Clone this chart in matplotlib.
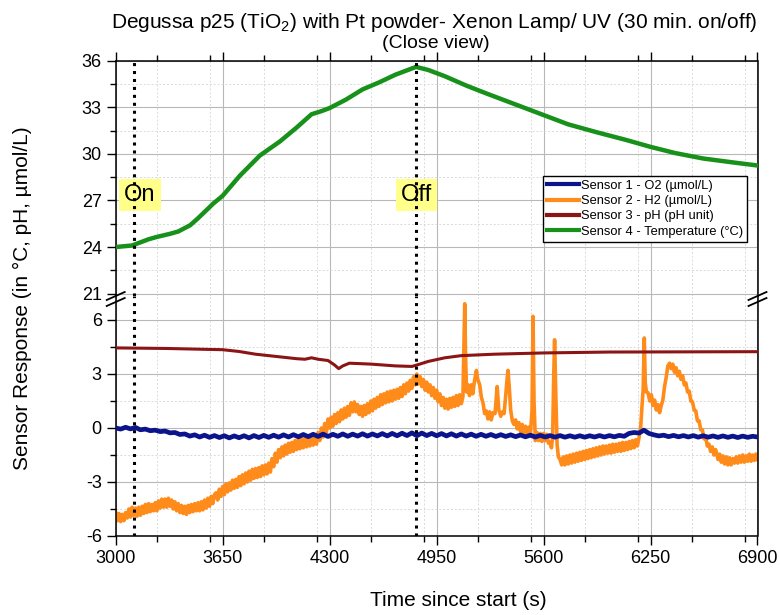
import matplotlib
matplotlib.use('Agg')
import matplotlib.pyplot as plt
from matplotlib.ticker import MultipleLocator, FixedLocator
from matplotlib.lines import Line2D

plt.rcParams['font.family'] = ['Liberation Sans', 'DejaVu Sans']
plt.rcParams['mathtext.fontset'] = 'custom'
plt.rcParams['mathtext.rm'] = 'Liberation Sans'
plt.rcParams['mathtext.it'] = 'Liberation Sans:italic'
plt.rcParams['axes.unicode_minus'] = False

# ---------------- data ----------------
temp_time = [3000, 3100, 3150, 3200, 3250, 3330, 3380, 3452, 3500, 3593, 3650, 3755,
             3877, 3998, 4100, 4190, 4250, 4300, 4400, 4500, 4600, 4700, 4825, 4900,
             5000, 5130, 5250, 5400, 5600, 5750, 5920, 6100, 6250, 6400, 6570, 6750, 6900]
temp_vals = [24.0, 24.1, 24.3, 24.5, 24.65, 24.85, 25.0, 25.4, 25.85, 26.8, 27.3, 28.6,
             29.9, 30.8, 31.7, 32.55, 32.75, 32.95, 33.5, 34.15, 34.6, 35.1, 35.6, 35.4,
             35.0, 34.4, 33.9, 33.3, 32.5, 31.9, 31.4, 30.9, 30.45, 30.05, 29.7, 29.45, 29.25]

ph_time = [3000, 3300, 3500, 3650, 3750, 3850, 4000, 4100, 4150, 4190, 4230, 4290,
           4330, 4355, 4380, 4420, 4550, 4700, 4800, 4830, 4900, 5000, 5100, 5300,
           5600, 6000, 6900]
ph_vals = [4.45, 4.42, 4.38, 4.35, 4.25, 4.1, 3.95, 3.85, 3.82, 3.9, 3.82, 3.75,
           3.5, 3.3, 3.45, 3.6, 3.55, 3.45, 3.42, 3.5, 3.7, 3.9, 4.02, 4.1,
           4.17, 4.22, 4.24]

# O2 sampled every 30 s from 3000 to 6900
o2_time = list(range(3000, 6901, 30))
o2_vals = [0.0, -0.06, 0.04, -0.05, 0.03, -0.1, -0.06, -0.15, -0.12, -0.2,
           -0.17, -0.27, -0.25, -0.36, -0.33, -0.45, -0.38, -0.5, -0.4, -0.52,
           -0.42, -0.53, -0.43, -0.55, -0.44, -0.54, -0.43, -0.55, -0.42, -0.53,
           -0.41, -0.52, -0.4, -0.51, -0.38, -0.5, -0.37, -0.49, -0.36, -0.48,
           -0.35, -0.47, -0.34, -0.47, -0.35, -0.46, -0.33, -0.46, -0.34, -0.45,
           -0.32, -0.45, -0.33, -0.44, -0.31, -0.44, -0.3, -0.43, -0.29, -0.42,
           -0.27, -0.43, -0.28, -0.42, -0.3, -0.43, -0.31, -0.44, -0.32, -0.45,
           -0.33, -0.45, -0.34, -0.46, -0.35, -0.46, -0.36, -0.47, -0.37, -0.47,
           -0.38, -0.48, -0.39, -0.49, -0.4, -0.5, -0.41, -0.5, -0.42, -0.51,
           -0.42, -0.51, -0.43, -0.51, -0.43, -0.51, -0.43, -0.5, -0.42, -0.5,
           -0.42, -0.49, -0.41, -0.46, -0.3, -0.25, -0.28, -0.12, -0.3, -0.38,
           -0.44, -0.4, -0.48, -0.41, -0.49, -0.42, -0.5, -0.42, -0.51, -0.43,
           -0.51, -0.44, -0.52, -0.44, -0.52, -0.45, -0.53, -0.45, -0.52, -0.46,
           -0.5]

# H2: uniformly sampled (10 s) segments and irregular spike segments
h2_seg_a_time = list(range(3000, 3601, 10))
h2_seg_a_vals = [-4.7, -5.15, -4.75, -5.2, -4.8, -5.15, -4.7, -5.0, -4.5, -4.95,
                 -4.4, -4.85, -4.45, -4.9, -4.4, -4.85, -4.35, -4.75, -4.25, -4.7,
                 -4.2, -4.65, -4.25, -4.6, -4.15, -4.6, -4.05, -4.45, -3.95, -4.4,
                 -3.95, -4.4, -3.9, -4.35, -4.0, -4.5, -4.1, -4.6, -4.2, -4.7,
                 -4.3, -4.75, -4.35, -4.8, -4.3, -4.7, -4.25, -4.65, -4.2, -4.6,
                 -4.15, -4.6, -4.1, -4.55, -4.0, -4.45, -3.9, -4.35, -3.8, -4.2,
                 -3.7]
h2_seg_b_time = list(range(3610, 4001, 10))
h2_seg_b_vals = [-3.6, -4.0, -3.4, -3.8, -3.25, -3.7, -3.1, -3.55, -3.05, -3.45,
                 -2.9, -3.35, -2.85, -3.3, -2.7, -3.2, -2.6, -3.1, -2.5, -3.0,
                 -2.4, -2.9, -2.3, -2.8, -2.25, -2.75, -2.2, -2.7, -2.1, -2.6,
                 -2.05, -2.55, -1.95, -2.45, -1.7, -2.15, -1.4, -1.9, -1.2, -1.65]
h2_seg_c_time = list(range(4010, 4501, 10))
h2_seg_c_vals = [-1.05, -1.55, -0.95, -1.45, -0.85, -1.35, -0.8, -1.3, -0.7, -1.2,
                 -0.65, -1.15, -0.6, -1.1, -0.55, -1.05, -0.5, -1.0, -0.45, -0.95,
                 -0.4, -0.9, -0.25, -0.7, 0.0, -0.5, 0.25, -0.25, 0.5, 0.0,
                 0.6, 0.1, 0.75, 0.25, 0.85, 0.35, 1.0, 0.5, 1.1, 0.6,
                 1.2, 0.7, 1.4, 0.9, 1.45, 0.9, 1.3, 0.75, 1.2, 0.65]
h2_seg_d_time = list(range(4510, 5101, 10))
h2_seg_d_vals = [1.25, 0.75, 1.35, 0.85, 1.5, 0.95, 1.6, 1.1, 1.7, 1.2,
                 1.85, 1.3, 1.9, 1.4, 2.0, 1.45, 2.05, 1.5, 2.1, 1.6,
                 2.15, 1.65, 2.25, 1.75, 2.4, 1.9, 2.5, 2.05, 2.65, 2.2,
                 2.85, 2.4, 3.0, 2.45, 2.85, 2.3, 2.7, 2.1, 2.55, 2.0,
                 2.4, 1.8, 2.25, 1.65, 2.1, 1.45, 1.9, 1.25, 1.7, 1.1,
                 1.6, 1.05, 1.65, 1.15, 1.7, 1.2, 1.8, 1.25, 1.85, 1.35]
h2_seg_e = [(5110, 1.75), (5116, 4.5), (5121, 6.9), (5126, 4.0), (5132, 2.0), (5140, 2.4),
            (5150, 1.8), (5160, 2.4), (5170, 1.9), (5180, 2.6), (5192, 3.2), (5200, 2.7),
            (5212, 2.4), (5222, 1.7), (5232, 1.4), (5242, 0.8), (5252, 0.95), (5262, 0.5),
            (5272, 0.9), (5282, 0.45), (5292, 0.85), (5305, 0.8), (5318, 2.3), (5328, 1.0),
            (5340, 0.65), (5350, 0.9), (5360, 0.8), (5370, 1.8), (5378, 2.7), (5384, 3.2),
            (5392, 2.2), (5400, 1.0), (5410, 0.4), (5420, 0.2), (5430, 0.45), (5440, -0.05),
            (5450, 0.3), (5460, -0.2), (5470, 0.2), (5480, -0.3), (5490, 0.1), (5500, -0.35),
            (5510, 0.05), (5520, -0.35), (5530, 1.0), (5536, 6.2), (5542, 1.5), (5550, -0.7),
            (5560, -0.25), (5570, -0.7), (5580, -0.3), (5590, -0.75), (5600, -0.3), (5610, -0.7),
            (5620, -0.35), (5630, -0.85), (5640, -0.8), (5648, -1.1), (5655, -0.5), (5662, 3.0),
            (5667, 4.9), (5674, 2.0), (5682, -0.9), (5690, -1.6), (5700, -1.75)]
h2_seg_f_time = list(range(5710, 6181, 10))
h2_seg_f_vals = [-2.05, -1.6, -2.05, -1.55, -2.0, -1.5, -1.95, -1.45, -1.9, -1.4,
                 -1.85, -1.35, -1.8, -1.3, -1.75, -1.25, -1.7, -1.2, -1.65, -1.15,
                 -1.6, -1.1, -1.55, -1.05, -1.5, -1.0, -1.45, -1.0, -1.4, -0.95,
                 -1.4, -0.9, -1.35, -0.9, -1.3, -0.85, -1.3, -0.8, -1.25, -0.8,
                 -1.2, -0.75, -1.15, -0.7, -1.1, -0.65, -1.0, -0.55]
h2_seg_g = [(6190, 0.0), (6198, 1.2), (6205, 2.1), (6212, 5.0), (6218, 2.5), (6225, 2.0),
            (6235, 1.95), (6245, 1.5), (6255, 1.85), (6265, 1.25), (6275, 1.55), (6285, 1.0),
            (6295, 1.3), (6305, 0.85), (6315, 1.25), (6325, 1.55), (6335, 2.3), (6345, 2.8),
            (6355, 3.45), (6366, 3.6), (6375, 3.3), (6385, 3.55), (6395, 3.1), (6405, 3.35),
            (6415, 2.9), (6425, 3.15), (6435, 2.7), (6445, 2.9), (6455, 2.4), (6465, 2.5),
            (6475, 2.0), (6485, 2.05), (6495, 1.5), (6505, 1.45), (6515, 1.0), (6525, 0.95),
            (6535, 0.4), (6545, 0.4), (6555, -0.1), (6565, -0.1), (6575, -0.6), (6585, -0.5),
            (6595, -1.0), (6605, -0.9), (6615, -1.3), (6625, -1.05), (6635, -1.5), (6645, -1.2)]
h2_seg_h_time = list(range(6650, 6901, 10))
h2_seg_h_vals = [-1.35, -1.75, -1.45, -1.9, -1.55, -2.0, -1.6, -2.05, -1.65, -2.05,
                 -1.7, -1.95, -1.6, -1.95, -1.55, -1.9, -1.5, -1.9, -1.55, -1.85,
                 -1.45, -1.85, -1.5, -1.8, -1.45, -1.75]

h2_time = (h2_seg_a_time + h2_seg_b_time + h2_seg_c_time + h2_seg_d_time
           + [p[0] for p in h2_seg_e] + h2_seg_f_time + [p[0] for p in h2_seg_g]
           + h2_seg_h_time)
h2_vals = (h2_seg_a_vals + h2_seg_b_vals + h2_seg_c_vals + h2_seg_d_vals
           + [p[1] for p in h2_seg_e] + h2_seg_f_vals + [p[1] for p in h2_seg_g]
           + h2_seg_h_vals)

series_labels = ['Sensor 1 - O2 (µmol/L)', 'Sensor 2 - H2 (µmol/L)',
                 'Sensor 3 - pH (pH unit)', 'Sensor 4 - Temperature (°C)']
series_colors = ['#0c148c', '#ff8c1a', '#8b1414', '#17911a']

on_time = 3110
off_time = 4825
x_ticks = [3000, 3650, 4300, 4950, 5600, 6250, 6900]
top_yticks = [21, 24, 27, 30, 33, 36]
bot_yticks = [-6, -3, 0, 3, 6]

# ---------------- figure ----------------
W_PX, H_PX = 780, 615
fig = plt.figure(figsize=(7.8, 6.15), dpi=100)

def fx(px):
    return px / W_PX

def fy(py):
    return 1 - py / H_PX

L, R = 115.7, 757.5
T, MID, B = 60.7, 296.0, 536.0
ax_top = fig.add_axes([fx(L), fy(MID), fx(R) - fx(L), fy(T) - fy(MID)])
ax_bot = fig.add_axes([fx(L), fy(B), fx(R) - fx(L), fy(MID) - fy(B)])

for ax in (ax_top, ax_bot):
    ax.set_xlim(3000, 6900)
    ax.xaxis.set_major_locator(FixedLocator(x_ticks))
    ax.xaxis.set_minor_locator(MultipleLocator(325))
    ax.yaxis.set_minor_locator(MultipleLocator(1.5))
    ax.grid(which='major', color='#b8b8b8', lw=0.8)
    ax.grid(which='minor', color='#dadada', lw=0.7, ls=(0, (2, 2)))
    ax.set_axisbelow(True)
    for s in ax.spines.values():
        s.set_linewidth(1.1)
    ax.tick_params(axis='both', which='major', direction='out', length=6.5, width=1.0,
                   labelsize=13)
    ax.tick_params(axis='both', which='minor', direction='out', length=4, width=1.0)
    ax.tick_params(axis='y', right=False, which='both')

ax_top.set_ylim(21 - (MID - 293.6) / 15.53, 36)
ax_top.yaxis.set_major_locator(FixedLocator(top_yticks))
ax_bot.set_ylim(-6, 6 + (320 - MID) / 18.0)
ax_bot.yaxis.set_major_locator(FixedLocator(bot_yticks))

ax_top.spines['bottom'].set_visible(False)
ax_bot.spines['top'].set_visible(False)
ax_top.tick_params(axis='x', which='both', bottom=False, top=True, labelbottom=False)
ax_bot.tick_params(axis='x', which='both', bottom=True, top=False)
ax_bot.set_xticklabels([str(t) for t in x_ticks])

# data lines
ax_bot.plot(o2_time, o2_vals, color=series_colors[0], lw=3.4, zorder=3)
ax_bot.plot(h2_time, h2_vals, color=series_colors[1], lw=2.6, zorder=2.5)
ax_bot.plot(ph_time, ph_vals, color=series_colors[2], lw=2.2, zorder=3)
ax_top.plot(temp_time, temp_vals, color=series_colors[3], lw=3.2, zorder=3)

# on/off markers
for ax in (ax_top, ax_bot):
    for t in (on_time, off_time):
        ax.axvline(t, color='black', lw=2.2, ls=(0, (1, 1.6)), zorder=6)

box = dict(boxstyle='square,pad=0.22', fc='#ffff8a', ec='none')
ax_top.text(3145, 27.35, 'On', ha='center', va='center', fontsize=17, bbox=box, zorder=5)
ax_top.text(4828, 27.35, 'Off', ha='center', va='center', fontsize=17, bbox=box, zorder=5)

# legend
handles = [Line2D([0], [0], color=c, lw=3) for c in series_colors]
leg = ax_top.legend(handles, series_labels, loc='upper left', bbox_to_anchor=(0.666, 0.51),
                    fontsize=9.3, frameon=True, fancybox=False, edgecolor='black',
                    framealpha=1, handlelength=2.5, handletextpad=0.1, labelspacing=0.25,
                    borderpad=0.3, borderaxespad=0)
leg.get_frame().set_linewidth(1.0)

# axis break marks
for xc in (L, R):
    for dy in (0, 6):
        fig.add_artist(Line2D([fx(xc - 9), fx(xc + 9)], [fy(300 + dy), fy(292 + dy)],
                              color='black', lw=1.3))

# titles / labels
fig.text(fx(434), fy(22), 'Degussa p25 (TiO$_2$) with Pt powder- Xenon Lamp/ UV (30 min. on/off)',
         ha='center', va='center', fontsize=15)
fig.text(fx(436), fy(44), '(Close view)', ha='center', va='center', fontsize=14)
fig.text(fx(458), fy(601), 'Time since start (s)', ha='center', va='center', fontsize=15)
fig.text(fx(22), fy(298), 'Sensor Response (in °C, pH, µmol/L)', ha='center', va='center',
         rotation=90, fontsize=15)

fig.savefig('out.png', dpi=100)
